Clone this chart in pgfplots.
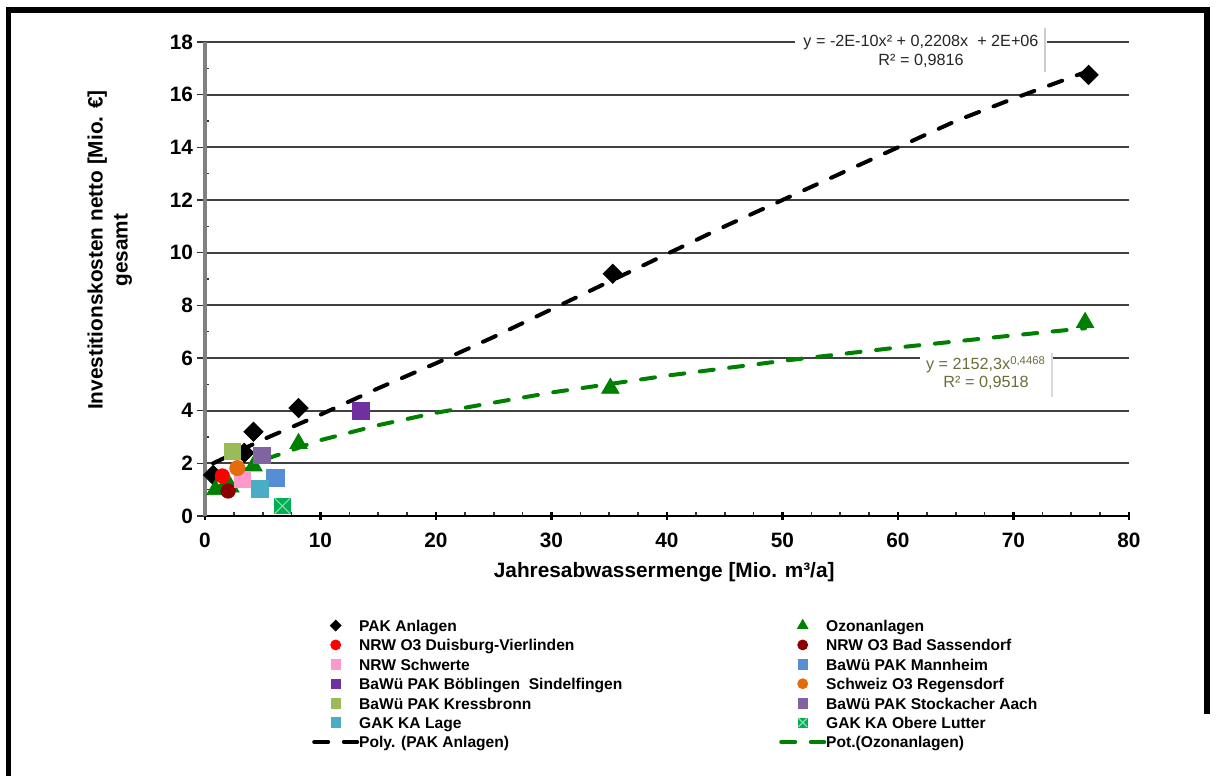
\documentclass[border=0pt]{standalone}
\usepackage{fontspec}
\setmainfont{Liberation Sans}
\usepackage{pgfplots}
\pgfplotsset{compat=1.18}
\definecolor{ozon}{RGB}{0,128,0}
\definecolor{duis}{RGB}{255,0,0}
\definecolor{sass}{RGB}{140,0,0}
\definecolor{schw}{RGB}{255,153,204}
\definecolor{mann}{RGB}{85,142,213}
\definecolor{boeb}{RGB}{112,48,160}
\definecolor{rege}{RGB}{228,108,10}
\definecolor{kres}{RGB}{155,187,89}
\definecolor{stoc}{RGB}{128,100,162}
\definecolor{lage}{RGB}{75,172,198}
\definecolor{lutt}{RGB}{0,176,80}
\definecolor{eqtwo}{RGB}{110,110,60}
\pgfdeclareplotmark{sqx}{%
  \pgfpathrectangle{\pgfqpoint{-\pgfplotmarksize}{-\pgfplotmarksize}}{\pgfqpoint{2\pgfplotmarksize}{2\pgfplotmarksize}}%
  \pgfusepathqfillstroke
  \pgfsetstrokecolor{white!55!lutt}%
  \pgfsetlinewidth{0.6bp}%
  \pgfpathmoveto{\pgfqpoint{-\pgfplotmarksize}{-\pgfplotmarksize}}%
  \pgfpathlineto{\pgfqpoint{\pgfplotmarksize}{\pgfplotmarksize}}%
  \pgfpathmoveto{\pgfqpoint{-\pgfplotmarksize}{\pgfplotmarksize}}%
  \pgfpathlineto{\pgfqpoint{\pgfplotmarksize}{-\pgfplotmarksize}}%
  \pgfusepathqstroke
}
\begin{document}
\begin{tikzpicture}
\begin{axis}[
  at={(102.5bp,-258bp)}, anchor=south west,
  scale only axis, width=462bp, height=237bp,
  xmin=0, xmax=80, ymin=0, ymax=18,
  xtick={0,10,...,80}, ytick={0,2,...,18},
  minor x tick num=3, minor y tick num=1,
  axis x line*=bottom, axis y line*=left,
  x axis line style={black, line width=1.1bp},
  y axis line style={black!50, line width=1.6bp},
  xtick align=center, ytick align=outside,
  major tick length=4bp, minor tick length=2bp,
  major x tick style={black, line width=1.1bp},
  minor x tick style={black!80, line width=0.8bp, yshift=1bp},
  major y tick style={black!80, line width=0.8bp},
  minor y tick style={black!80, line width=0.6bp, xshift=2bp},
  ymajorgrids, grid style={black!75, line width=0.9bp},
  tick label style={font=\fontsize{10.4bp}{12bp}\selectfont\bfseries},
  xticklabel style={yshift=-3bp},
  yticklabel style={xshift=1.5bp},
  /pgf/number format/assume math mode=true,
  xlabel={Jahresabwassermenge [Mio. m³/a]},
  xlabel style={at={(0.497,-0.118)}, anchor=center, font=\fontsize{10.4bp}{12bp}\selectfont\bfseries},
  ylabel={Investitionskosten netto [Mio. €]\\gesamt},
  ylabel style={at={(-0.103,0.561)}, anchor=center, align=center, font=\fontsize{10.4bp}{12.5bp}\selectfont\bfseries},
  clip=false,
  legend columns=2,
  legend cell align=left,
  legend style={at={(0.1156,-0.2165)}, anchor=north west, draw=none, fill=none,
    font=\fontsize{7.8bp}{9bp}\selectfont\bfseries, inner sep=0pt,
    row sep=0pt, column sep=0pt,
    nodes={inner sep=0pt, text height=6.2bp, text depth=3.5bp}},
  legend image code/.code={\draw[#1,mark repeat=2,mark phase=2,yshift=1.6bp] plot coordinates {(0bp,0bp) (10.75bp,0bp) (21.5bp,0bp)};},
]
% PAK Anlagen
\addplot[only marks, mark=square*, mark size=3.4bp, black, mark options={rotate=45},
  legend image post style={mark size=1.9bp}]
  coordinates {(0.7,1.56) (3.4,2.4) (4.2,3.2) (8.1,4.1) (35.3,9.2) (76.5,16.75)};
\addlegendentry{\makebox[210bp][l]{PAK Anlagen}}
% Ozonanlagen
\addplot[only marks, mark=triangle*, mark size=5bp, ozon,
  legend image post style={mark size=3bp}]
  coordinates {(0.9,1.0) (2.2,1.1) (4.2,1.9) (8.1,2.75) (35.1,4.85) (76.2,7.35)};
\addlegendentry{Ozonanlagen}
\addplot[only marks, mark=*, mark size=3.6bp, duis, legend image post style={mark size=2.5bp}]
  coordinates {(1.5,1.52)};
\addlegendentry{\makebox[210bp][l]{NRW O3 Duisburg-Vierlinden}}
\addplot[only marks, mark=*, mark size=3.6bp, sass, legend image post style={mark size=2.5bp}]
  coordinates {(2.0,0.95)};
\addlegendentry{NRW O3 Bad Sassendorf}
\addplot[only marks, mark=square*, mark size=4bp, schw, legend image post style={mark size=2.4bp}]
  coordinates {(3.2,1.4)};
\addlegendentry{\makebox[210bp][l]{NRW Schwerte}}
\addplot[only marks, mark=square*, mark size=4.3bp, mann, legend image post style={mark size=2.4bp}]
  coordinates {(6.1,1.44)};
\addlegendentry{BaWü PAK Mannheim}
\addplot[only marks, mark=square*, mark size=4.2bp, boeb, legend image post style={mark size=2.2bp}]
  coordinates {(13.5,4.0)};
\addlegendentry{\makebox[210bp][l]{BaWü PAK Böblingen\ \ Sindelfingen}}
\addplot[only marks, mark=*, mark size=3.8bp, rege, legend image post style={mark size=2.5bp}]
  coordinates {(2.8,1.82)};
\addlegendentry{Schweiz O3 Regensdorf}
\addplot[only marks, mark=square*, mark size=4bp, kres, legend image post style={mark size=2.4bp}]
  coordinates {(2.4,2.47)};
\addlegendentry{\makebox[210bp][l]{BaWü PAK Kressbronn}}
\addplot[only marks, mark=square*, mark size=4.2bp, stoc, legend image post style={mark size=2.4bp}]
  coordinates {(4.9,2.3)};
\addlegendentry{BaWü PAK Stockacher Aach}
\addplot[only marks, mark=square*, mark size=4.2bp, lage, legend image post style={mark size=2.4bp}]
  coordinates {(4.75,1.03)};
\addlegendentry{\makebox[210bp][l]{GAK KA Lage}}
\addplot[only marks, mark=sqx, mark size=3.8bp, lutt, legend image post style={mark size=2.2bp}]
  coordinates {(6.7,0.38)};
\addlegendentry{GAK KA Obere Lutter}
% trend lines
\addplot[black, line width=2bp, line cap=round, dash pattern=on 7bp off 7.8bp]
  coordinates {(0.7,2.0) (5,2.9) (10,3.85) (15,4.85) (20,5.8) (25,6.8) (30,7.85) (35,8.9) (40,9.95) (45,11.0) (50,12.0) (55,13.0) (60,14.0) (65,15.0) (70,15.85) (76.5,16.9)};
\addlegendentry{\makebox[210bp][l]{Poly. (PAK Anlagen)}}
\addplot[ozon, line width=2bp, line cap=round, dash pattern=on 7bp off 7.8bp]
  coordinates {(0.9,0.98) (2,1.40) (5,2.12) (10,2.88) (15,3.45) (20,3.92) (30,4.69) (40,5.33) (50,5.89) (60,6.40) (70,6.86) (76.2,7.13)};
\addlegendentry{Pot.(Ozonanlagen)}
\end{axis}
% trendline labels
\node[fill=white, inner xsep=4bp, inner ysep=2bp, align=center, text=black!85,
  font=\fontsize{8.1bp}{9.5bp}\selectfont] at (460.5bp,-25.8bp)
  {y = -2E-10x² + 0,2208x\ \ + 2E+06\\R² = 0,9816};
\draw[black!20, line width=0.8bp] (522.5bp,-14bp) -- (522.5bp,-36bp);
\node[fill=white, inner xsep=3bp, inner ysep=2bp, align=center, text=eqtwo,
  font=\fontsize{8.1bp}{9bp}\selectfont] at (493bp,-186.5bp)
  {y = 2152,3x\textsuperscript{0,4468}\\R² = 0,9518};
\draw[black!15, line width=0.8bp] (526bp,-176.5bp) -- (526bp,-198.5bp);
% frame
\draw[black, line width=2.8bp] (4.25bp,-388bp) -- (4.25bp,-5bp) -- (603.5bp,-5bp) -- (603.5bp,-357bp);
\pgfresetboundingbox
\useasboundingbox (0,0) rectangle (608.5bp,-388bp);
\end{tikzpicture}
\end{document}
